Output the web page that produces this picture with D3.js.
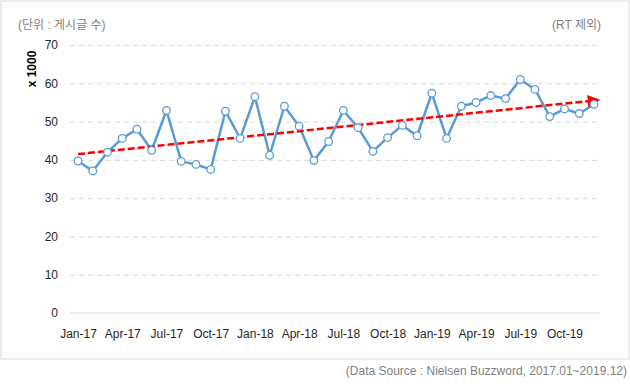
<!DOCTYPE html>
<html><head>
<meta charset="utf-8">
<script src="https://d3js.org/d3.v7.min.js"></script>
<style>
  body { margin: 0; background: #fff; }
  svg text { font-family: "Liberation Sans", Arial, "Noto Sans CJK KR", sans-serif; }
  .gridlines line { stroke: #d9d9d9; stroke-dasharray: 5,4; }
  .gridlines .domain { stroke: none; }
  .axis .domain { stroke: none; }
  .axis line { stroke: none; }
  .axis text { font-size: 12px; fill: #262626; }
</style>
</head>
<body>
<svg id="chart" width="630" height="384"></svg>
<script>
// monthly posts, Jan 2017 - Dec 2019 (x 1000)
const months = [
  "Jan-17","Feb-17","Mar-17","Apr-17","May-17","Jun-17","Jul-17","Aug-17","Sep-17","Oct-17","Nov-17","Dec-17",
  "Jan-18","Feb-18","Mar-18","Apr-18","May-18","Jun-18","Jul-18","Aug-18","Sep-18","Oct-18","Nov-18","Dec-18",
  "Jan-19","Feb-19","Mar-19","Apr-19","May-19","Jun-19","Jul-19","Aug-19","Sep-19","Oct-19","Nov-19","Dec-19"
];
const posts = [
  39.7, 37.1, 42.0, 45.6, 48.0, 42.5, 52.9, 39.6, 38.8, 37.5, 52.7, 45.6,
  56.5, 41.2, 54.0, 48.8, 39.8, 44.8, 52.9, 48.4, 42.2, 45.8, 49.0, 46.3,
  57.4, 45.6, 54.0, 55.0, 56.8, 56.0, 61.0, 58.4, 51.3, 53.3, 52.1, 54.5
];
const trendEnds = [41.5, 55.5]; // trend line value at Jan-17 and Dec-19
const yTicks = [0, 10, 20, 30, 40, 50, 60, 70];
const xTicks = ["Jan-17","Apr-17","Jul-17","Oct-17","Jan-18","Apr-18","Jul-18","Oct-18","Jan-19","Apr-19","Jul-19","Oct-19"];

let svg = d3.select("svg#chart");

// outer frame
svg.append("rect")
  .attr("x", 1).attr("y", 1).attr("width", 628).attr("height", 358)
  .attr("fill", "none").attr("stroke", "#d9d9d9").attr("stroke-width", 1);

const x = d3.scalePoint().domain(months).range([78, 594]);
const y = d3.scaleLinear().domain([0, 70]).range([313, 45]);

// dashed gridlines (not at zero)
let grid = d3.axisLeft(y).tickValues(yTicks.filter(d => d > 0)).tickSize(-(600 - 70)).tickFormat("");
svg.append("g").attr("class", "gridlines")
  .attr("transform", "translate(70,0)")
  .call(grid);

// zero baseline
svg.append("line")
  .attr("x1", 70).attr("x2", 600)
  .attr("y1", y(0)).attr("y2", y(0))
  .attr("stroke", "#d9d9d9").attr("stroke-width", 1);

// y axis labels
svg.append("g").attr("class", "axis")
  .attr("transform", "translate(64,0)")
  .call(d3.axisLeft(y).tickValues(yTicks).tickSize(0).tickPadding(6));

// x axis labels
svg.append("g").attr("class", "axis")
  .attr("transform", "translate(0,325)")
  .call(d3.axisBottom(x).tickValues(xTicks).tickSize(0).tickPadding(4));

// unit label rotated
svg.append("text")
  .attr("transform", "translate(36,69) rotate(-90)")
  .attr("text-anchor", "middle")
  .style("font-size", "12px").style("font-weight", "bold").style("fill", "#000")
  .text("x 1000");

// headings
svg.append("text")
  .attr("x", 18).attr("y", 29)
  .style("font-size", "12px").style("fill", "#7f7f7f")
  .text("(단위 : 게시글 수)");
svg.append("text")
  .attr("x", 601).attr("y", 29).attr("text-anchor", "end")
  .style("font-size", "12px").style("fill", "#7f7f7f")
  .text("(RT 제외)");
svg.append("text")
  .attr("x", 627).attr("y", 375).attr("text-anchor", "end")
  .style("font-size", "12px").style("fill", "#7f7f7f")
  .text("(Data Source : Nielsen Buzzword, 2017.01~2019.12)");

// data line
let line = d3.line()
  .x((d, i) => x(months[i]))
  .y(d => y(d));

svg.append("path")
  .datum(posts)
  .attr("d", line)
  .attr("fill", "none")
  .attr("stroke", "#5b9bd5")
  .attr("stroke-width", 2.5)
  .attr("stroke-linejoin", "round");

// trend arrow
svg.append("defs").append("marker")
  .attr("id", "arrow")
  .attr("viewBox", "0 0 10 10")
  .attr("refX", 5).attr("refY", 5)
  .attr("markerWidth", 5).attr("markerHeight", 5)
  .attr("orient", "auto")
  .append("path").attr("d", "M0,0 L10,5 L0,10 Z").attr("fill", "#ff0000");

svg.append("line")
  .attr("x1", x(months[0])).attr("y1", y(trendEnds[0]))
  .attr("x2", x(months[months.length - 1])).attr("y2", y(trendEnds[1]))
  .attr("stroke", "#ff0000")
  .attr("stroke-width", 2.5)
  .attr("stroke-dasharray", "7,3")
  .attr("marker-end", "url(#arrow)");

// markers
svg.append("g").selectAll("circle")
  .data(posts)
  .join("circle")
  .attr("cx", (d, i) => x(months[i]))
  .attr("cy", d => y(d))
  .attr("r", 3.8)
  .attr("fill", "#fff")
  .attr("stroke", "#5b9bd5")
  .attr("stroke-width", 1.3);
</script>
</body>
</html>
